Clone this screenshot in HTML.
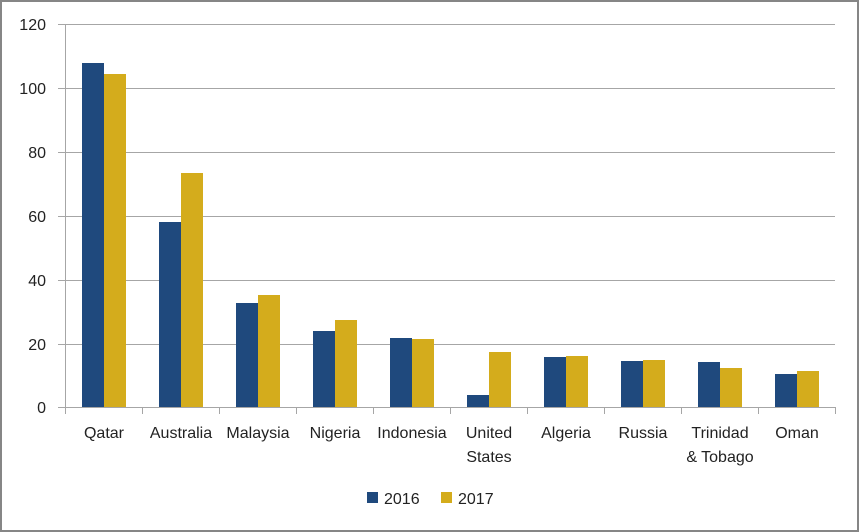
<!DOCTYPE html><html><head><style>body{margin:0}svg{display:block}text{font-family:"Liberation Sans",sans-serif;font-size:16px;fill:#222}</style></head><body>
<svg width="859" height="532" xmlns="http://www.w3.org/2000/svg">
<rect x="0" y="0" width="859" height="532" fill="#fff"/>
<rect x="1" y="1" width="857" height="530" fill="none" stroke="#868686" stroke-width="2"/>
<g stroke="#a6a6a6" stroke-width="1">
<line x1="58" y1="24.5" x2="835" y2="24.5"/><line x1="58" y1="88.5" x2="835" y2="88.5"/><line x1="58" y1="152.5" x2="835" y2="152.5"/><line x1="58" y1="216.5" x2="835" y2="216.5"/><line x1="58" y1="280.5" x2="835" y2="280.5"/><line x1="58" y1="344.5" x2="835" y2="344.5"/><line x1="58" y1="407.5" x2="835" y2="407.5"/>
<line x1="65.5" y1="24" x2="65.5" y2="407"/>
<line x1="65.5" y1="407" x2="65.5" y2="414"/><line x1="142.5" y1="407" x2="142.5" y2="414"/><line x1="219.5" y1="407" x2="219.5" y2="414"/><line x1="296.5" y1="407" x2="296.5" y2="414"/><line x1="373.5" y1="407" x2="373.5" y2="414"/><line x1="450.5" y1="407" x2="450.5" y2="414"/><line x1="527.5" y1="407" x2="527.5" y2="414"/><line x1="604.5" y1="407" x2="604.5" y2="414"/><line x1="681.5" y1="407" x2="681.5" y2="414"/><line x1="758.5" y1="407" x2="758.5" y2="414"/><line x1="835.5" y1="407" x2="835.5" y2="414"/>
</g>
<g text-anchor="end"><text x="46" y="30">120</text><text x="46" y="94">100</text><text x="46" y="158">80</text><text x="46" y="222">60</text><text x="46" y="286">40</text><text x="46" y="350">20</text><text x="46" y="413">0</text></g>
<g fill="#1f497d">
<rect x="82" y="63" width="22" height="344"/><rect x="159" y="222" width="22" height="185"/><rect x="236" y="303" width="22" height="104"/><rect x="313" y="331" width="22" height="76"/><rect x="390" y="338" width="22" height="69"/><rect x="467" y="395" width="22" height="12"/><rect x="544" y="357" width="22" height="50"/><rect x="621" y="361" width="22" height="46"/><rect x="698" y="362" width="22" height="45"/><rect x="775" y="374" width="22" height="33"/>
</g>
<g fill="#d4ac1c">
<rect x="104" y="74" width="22" height="333"/><rect x="181" y="173" width="22" height="234"/><rect x="258" y="295" width="22" height="112"/><rect x="335" y="320" width="22" height="87"/><rect x="412" y="339" width="22" height="68"/><rect x="489" y="352" width="22" height="55"/><rect x="566" y="356" width="22" height="51"/><rect x="643" y="360" width="22" height="47"/><rect x="720" y="368" width="22" height="39"/><rect x="797" y="371" width="22" height="36"/>
</g>
<g text-anchor="middle">
<text x="104" y="438">Qatar</text><text x="181" y="438">Australia</text><text x="258" y="438">Malaysia</text><text x="335" y="438">Nigeria</text><text x="412" y="438">Indonesia</text><text x="489" y="438">United</text><text x="489" y="462">States</text><text x="566" y="438">Algeria</text><text x="643" y="438">Russia</text><text x="720" y="438">Trinidad</text><text x="720" y="462">&amp; Tobago</text><text x="797" y="438">Oman</text>
</g>
<rect x="367" y="492" width="11" height="11" fill="#1f497d"/><text x="384" y="504">2016</text>
<rect x="441" y="492" width="11" height="11" fill="#d4ac1c"/><text x="458" y="504">2017</text>
</svg></body></html>
